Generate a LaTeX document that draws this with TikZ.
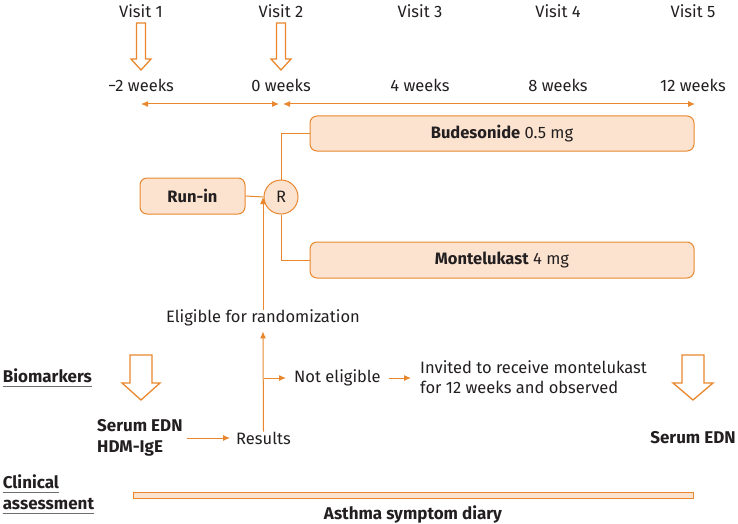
\documentclass[tikz,border=0pt]{standalone}
\usepackage{fontspec}
\setmainfont{Fira Sans}
\usetikzlibrary{arrows.meta,calc}
\definecolor{orc}{HTML}{E8872E}
\definecolor{lfill}{HTML}{FCE3CF}
\definecolor{txtc}{HTML}{231F20}
\definecolor{ulc}{HTML}{6E6E6E}
\newcommand{\ulx}[1]{\tikz[baseline=(u.base)]{\node[inner sep=0pt] (u) {#1}; \draw[ulc, line width=0.8pt] ([yshift=-3.5pt]u.base west) -- ([yshift=-3.5pt]u.base east);}}
\tikzset{
  txt/.style={font=\fontsize{16.5}{20}\selectfont, text=txtc, inner sep=0pt},
  btxt/.style={txt, font=\fontsize{17}{21}\selectfont\bfseries},
  box/.style={draw=orc, fill=lfill, rounded corners=7pt, line width=1pt, inner sep=0pt, text=txtc, font=\fontsize{16.5}{20}\selectfont},
  ln/.style={draw=orc, line width=1pt},
  arr/.style={ln, -{Latex[length=7pt,width=6pt]}},
  darr/.style={ln, {Latex[length=7pt,width=6pt]}-{Latex[length=7pt,width=6pt]}},
  harr/.style={draw=orc, fill=white, line width=1.3pt, line join=miter},
  pics/harrow/.style n args={4}{code={
    \draw[harr] (-#1,0) -- (#1,0) -- (#1,#3) -- (#2,#3) -- (0,#4) -- (-#2,#3) -- (-#1,#3) -- cycle;}},
}
\begin{document}
\begin{tikzpicture}[x=1pt,y=-1pt]
\useasboundingbox (0,0) rectangle (738,524);
% visits
\node[txt] (v1) at (141,11) {Visit 1};
\node[txt] (v2) at (281,11) {Visit 2};
\node[txt] (v3) at (420,11) {Visit 3};
\node[txt] (v4) at (558,11) {Visit 4};
\node[txt] (v5) at (693,11) {Visit 5};
\pic at (141,23) {harrow={4.5}{10}{36}{47}};
\pic at (281,23) {harrow={4.5}{10}{36}{47}};
% weeks
\node[txt] (w1) at (141,85) {\textminus2 weeks};
\node[txt] (w2) at (281,85) {0 weeks};
\node[txt] (w3) at (420,85) {4 weeks};
\node[txt] (w4) at (558,85) {8 weeks};
\node[txt] (w5) at (693,85) {12 weeks};
\coordinate (t0) at (141,104);
\coordinate (t1a) at (279,104);
\coordinate (t1b) at (283,104);
\coordinate (t2) at (695,104);
\draw[darr] (t0) -- (t1a);
\draw[darr] (t1b) -- (t2);
% treatment boxes
\node[box, minimum width=384pt, minimum height=35pt] (bud) at (502,133.5) {\textbf{Budesonide} 0.5 mg};
\node[box, minimum width=384pt, minimum height=36pt] (mon) at (502,260) {\textbf{Montelukast} 4 mg};
\node[box, minimum width=105pt, minimum height=36pt] (run) at (192.5,196) {\textbf{Run-in}};
\node[box, circle, rounded corners=0pt, minimum size=34pt] (R) at (281,197) {R};
\draw[ln] (run.east) -- (R.west);
\draw[ln] (R.north) |- (bud.west);
\draw[ln] (R.south) |- (mon.west);
% eligibility
\node[txt] (elig) at (263,318) {Eligible for randomization};
\draw[arr] (elig.north) -- (elig.north |- R.west);
\node[txt] (res) at (263.5,438) {Results};
\draw[arr] (res.north) -- ([yshift=-5pt]elig.south);
\node[txt, anchor=west] (ne) at (294,378) {Not eligible};
\draw[arr] (res.north |- ne.west) -- ([xshift=-8pt]ne.west);
\node[txt, anchor=west, align=left] (inv) at (420,377.5) {Invited to receive montelukast\\for 12 weeks and observed};
\draw[arr] ([xshift=8pt]ne.east) -- ([xshift=-9pt]inv.west |- ne.east);
% biomarkers
\node[btxt, anchor=west] (bio) at (2,378) {\ulx{Biomarkers}};
\pic at (141,355) {harrow={11}{19}{28}{45}};
\pic at (693,355) {harrow={11}{20}{28}{45}};
\node[btxt, anchor=west, align=left] (ser) at (97,438) {Serum EDN\\HDM-IgE};
\draw[arr] ([xshift=4pt]ser.east) -- ([xshift=-6pt]res.west);
\node[btxt] (ser2) at (693,438) {Serum EDN};
% clinical
\node[btxt, anchor=west, align=left] (clin) at (2,494) {\ulx{Clinical}\\\ulx{assessment}};
\node[draw=orc, fill=lfill, line width=1pt, inner sep=0pt, minimum width=560pt, minimum height=6pt] (bar) at (413,495) {};
\node[btxt] (diary) at (413,514) {Asthma symptom diary};
\end{tikzpicture}
\end{document}
